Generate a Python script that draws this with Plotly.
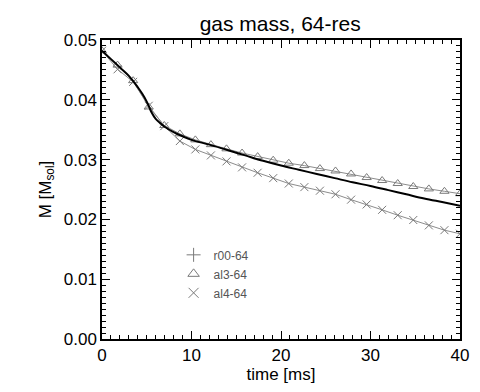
import plotly.graph_objects as go

# r00-64 (solid black curve)
t_r00 = [0, 1, 2, 3, 4, 4.5, 5, 5.5, 6, 6.5, 7, 8, 9, 10, 12, 14, 16, 18, 20,
         22, 24, 26, 28, 30, 32, 34, 36, 38, 40]
m_r00 = [0.0482, 0.0468, 0.0454, 0.0440, 0.0421, 0.0410, 0.0397, 0.0380, 0.0368,
         0.0361, 0.0355, 0.0346, 0.0339, 0.0333, 0.0325, 0.0316, 0.0307, 0.0298,
         0.0290, 0.0283, 0.0276, 0.0269, 0.0262, 0.0256, 0.0249, 0.0242, 0.0235,
         0.0229, 0.0223]

# sampled outputs for al3-64 / al4-64
t_out = [0, 1.74, 3.48, 5.22, 6.96, 8.7, 10.43, 12.17, 13.91, 15.65, 17.39, 19.13,
         20.87, 22.61, 24.35, 26.09, 27.83, 29.57, 31.3, 33.04, 34.78, 36.52, 38.26, 40]
m_al3 = [0.0482, 0.0458, 0.0432, 0.0388, 0.0357, 0.0343, 0.0333, 0.0325, 0.0318,
         0.0311, 0.0305, 0.0299, 0.0294, 0.0290, 0.0285, 0.0281, 0.0276, 0.0270,
         0.0265, 0.0260, 0.0255, 0.0251, 0.0247, 0.0243]
m_al4 = [0.0482, 0.0451, 0.0430, 0.0390, 0.0356, 0.0331, 0.0317, 0.0307, 0.0297,
         0.0287, 0.0278, 0.0269, 0.0260, 0.0254, 0.0248, 0.0242, 0.0233, 0.0225,
         0.0216, 0.0207, 0.0199, 0.0190, 0.0182, 0.0176]

names = ["r00-64", "al3-64", "al4-64"]
symbols = ["cross-thin", "triangle-up-open", "x-thin"]

gray = "#7a7a7a"
font = "Liberation Sans, Arial, Helvetica, sans-serif"

fig = go.Figure()

fig.add_trace(go.Scatter(x=t_out, y=m_al3, mode="lines+markers", showlegend=False,
                         line=dict(color="#8c8c8c", width=1),
                         marker=dict(symbol="triangle-up-open", size=8, color=gray,
                                     line=dict(width=1, color=gray))))
fig.add_trace(go.Scatter(x=t_out, y=m_al4, mode="lines+markers", showlegend=False,
                         line=dict(color="#8c8c8c", width=1),
                         marker=dict(symbol="x-thin", size=8, color=gray,
                                     line=dict(width=1, color=gray))))
fig.add_trace(go.Scatter(x=t_r00, y=m_r00, mode="lines", showlegend=False,
                         line=dict(color="black", width=2, shape="spline")))

# legend entries: symbols only
for name, sym in zip(names, symbols):
    fig.add_trace(go.Scatter(x=[None], y=[None], mode="markers", name=name,
                             marker=dict(symbol=sym, size=10, color=gray,
                                         line=dict(width=1, color=gray))))

axis_common = dict(showline=True, linecolor="black", linewidth=1.5, mirror="allticks",
                   ticks="inside", tickcolor="black", ticklen=8, tickwidth=1.2,
                   showgrid=False, zeroline=False,
                   tickfont=dict(size=17, color="black", family=font))

fig.update_layout(
    width=480, height=392,
    margin=dict(l=94, r=28, t=32, b=61),
    paper_bgcolor="white", plot_bgcolor="white",
    font=dict(family=font, color="black"),
    title=dict(text="gas mass, 64-res", x=0.567, xanchor="center", y=0.96,
               yanchor="middle", font=dict(size=21, color="black")),
    xaxis=dict(range=[0, 40], dtick=10, title=dict(text="time [ms]", standoff=2,
               font=dict(size=17)),
               minor=dict(ticks="inside", ticklen=4, dtick=1, tickcolor="black"),
               **axis_common),
    yaxis=dict(range=[0, 0.05], dtick=0.01, tickformat=".2f",
               title=dict(text="M [M<sub>sol</sub>]", standoff=8, font=dict(size=17)),
               minor=dict(ticks="inside", ticklen=4, dtick=0.001, tickcolor="black"),
               **axis_common),
    legend=dict(x=0.2, y=0.33, xanchor="left", yanchor="top", bgcolor="rgba(0,0,0,0)",
                font=dict(size=12, color="#555555"), itemwidth=30),
)

fig.write_html("out.html")
